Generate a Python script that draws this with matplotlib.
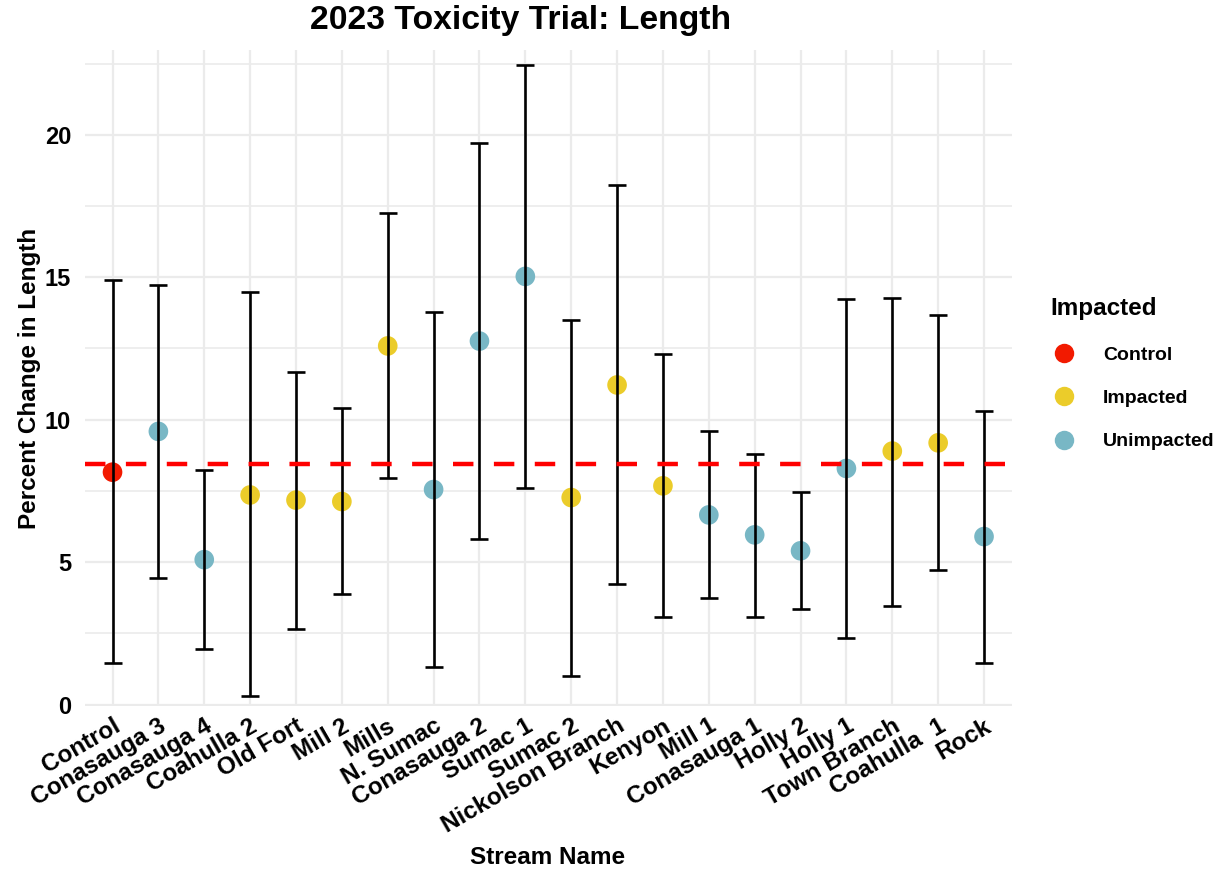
import numpy as np
import matplotlib
matplotlib.use("Agg")
import matplotlib.pyplot as plt
from matplotlib.lines import Line2D

streams = ["Control", "Conasauga 3", "Conasauga 4", "Coahulla 2", "Old Fort",
           "Mill 2", "Mills", "N. Sumac", "Conasauga 2", "Sumac 1", "Sumac 2",
           "Nickolson Branch", "Kenyon", "Mill 1", "Conasauga 1", "Holly 2",
           "Holly 1", "Town Branch", "Coahulla  1", "Rock"]
group = ["Control", "Unimpacted", "Unimpacted", "Impacted", "Impacted",
         "Impacted", "Impacted", "Unimpacted", "Unimpacted", "Unimpacted",
         "Impacted", "Impacted", "Impacted", "Unimpacted", "Unimpacted",
         "Unimpacted", "Unimpacted", "Impacted", "Impacted", "Unimpacted"]
mean_change = [8.16, 9.59, 5.09, 7.36, 7.18, 7.13, 12.59, 7.55, 12.76, 15.03,
               7.27, 11.22, 7.68, 6.66, 5.96, 5.40, 8.29, 8.90, 9.19, 5.90]
upper = [14.92, 14.73, 8.25, 14.47, 11.68, 10.40, 17.26, 13.78, 19.70, 22.44,
         13.51, 18.22, 12.30, 9.59, 8.81, 7.47, 14.24, 14.28, 13.66, 10.32]
lower = [1.45, 4.45, 1.94, 0.29, 2.67, 3.89, 7.94, 1.33, 5.82, 7.62,
         1.02, 4.24, 3.08, 3.75, 3.08, 3.35, 2.35, 3.48, 4.74, 1.45]
control_mean = 8.46

group_colors = {"Control": "#F21A00", "Impacted": "#EBCC2A", "Unimpacted": "#78B7C5"}

plt.rcParams['font.family'] = ['Liberation Sans', 'DejaVu Sans']
plt.rcParams['font.weight'] = 'bold'

fig = plt.figure(figsize=(12.3, 8.75), dpi=100)
ax = fig.add_axes([0.0691, 0.193, 0.7533, 0.7497])

x = np.arange(len(streams))
mean_change = np.array(mean_change)
colors = [group_colors[g] for g in group]

ax.scatter(x, mean_change, s=200, c=colors, zorder=3, linewidths=0)
ax.errorbar(x, mean_change,
            yerr=[mean_change - np.array(lower), np.array(upper) - mean_change],
            fmt="none", ecolor="black", elinewidth=1.9, capsize=6.5,
            capthick=1.9, zorder=4)
ax.axhline(control_mean, color="#FF0000", lw=3.2, dashes=(4.6, 4.6), zorder=5)

ax.set_xlim(-0.6, len(streams) - 0.4)
ax.set_ylim(-0.05, 22.97)
ax.set_yticks([0, 5, 10, 15, 20])
ax.set_yticks([2.5, 7.5, 12.5, 17.5, 22.5], minor=True)
ax.set_xticks(x)
ax.set_xticklabels(streams, rotation=30, ha="right", va="top",
                   rotation_mode="anchor", fontsize=17.5, fontweight="bold")
ax.tick_params(axis="y", labelsize=17, length=0, pad=10)
ax.tick_params(axis="x", length=0, pad=6)
ax.tick_params(which="minor", length=0)

ax.grid(True, which="major", color="#EBEBEB", lw=1.6)
ax.grid(True, which="minor", axis="y", color="#EBEBEB", lw=1.2)
ax.set_axisbelow(True)
for s in ax.spines.values():
    s.set_visible(False)

ax.set_ylabel("Percent Change in Length", fontsize=17.5, fontweight="bold", labelpad=3)
fig.text(0.445, 0.0195, "Stream Name", fontsize=17.5, fontweight="bold",
         ha="center", va="center")
fig.text(0.423, 0.977, "2023 Toxicity Trial: Length", fontsize=24.3,
         fontweight="bold", ha="center", va="center")

handles = [Line2D([], [], marker="o", ls="none", markersize=14,
                  markerfacecolor=group_colors[g], markeredgewidth=0)
           for g in ["Control", "Impacted", "Unimpacted"]]
leg = fig.legend(handles, ["Control", "Impacted", "Unimpacted"],
                 title="Impacted", loc="upper left",
                 bbox_to_anchor=(0.840, 0.680), frameon=False,
                 prop={"size": 14, "weight": "bold"},
                 title_fontproperties={"size": 17.5, "weight": "bold"},
                 labelspacing=1.32, handletextpad=1.3, handlelength=1.4)
leg._legend_box.align = "left"

fig.savefig("out.png", dpi=100)
